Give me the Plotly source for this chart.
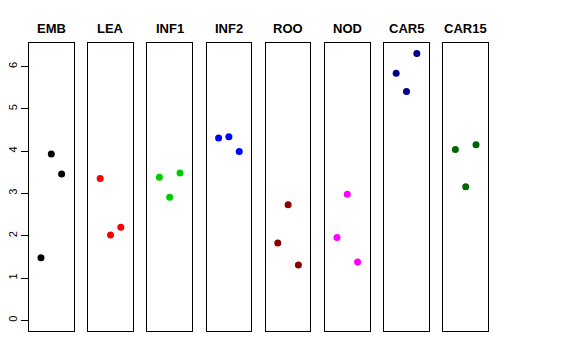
import plotly.graph_objects as go

# ---- data ----
categories = ["EMB", "LEA", "INF1", "INF2", "ROO", "NOD", "CAR5", "CAR15"]
replicate = [1, 2, 3]
emb = [1.48, 3.93, 3.46]
lea = [3.35, 2.02, 2.20]
inf1 = [3.38, 2.91, 3.48]
inf2 = [4.31, 4.34, 3.99]
roo = [1.83, 2.73, 1.31]
nod = [1.96, 2.98, 1.38]
car5 = [5.84, 5.41, 6.31]
car15 = [4.04, 3.16, 4.15]
series = [emb, lea, inf1, inf2, roo, nod, car5, car15]
colors = ["#000000", "#FF0000", "#00CD00", "#0000FF", "#8B0000", "#FF00FF", "#00008B", "#006400"]
y_ticks = [0, 1, 2, 3, 4, 5, 6]

# ---- layout geometry (pixels); page body has an 8px default margin ----
W, H = 576, 360
off = 8
ml, mr, mt, mb = 29 - off, 88 + off, 43 - off, 29 + off
pw = W - ml - mr
panel_w = 44.6
panel_step = 59.2

fig = go.Figure()
layout = dict(
    width=W, height=H,
    margin=dict(l=ml, r=mr, t=mt, b=mb, pad=0, autoexpand=False),
    paper_bgcolor="white", plot_bgcolor="white",
    showlegend=False,
    font=dict(family="Liberation Sans, Arial, sans-serif", color="black"),
    annotations=[],
)

for i, (cat, vals, col) in enumerate(zip(categories, series, colors)):
    n = "" if i == 0 else str(i + 1)
    fig.add_trace(go.Scatter(
        x=replicate, y=vals, mode="markers",
        marker=dict(color=col, size=7),
        xaxis="x" + n, yaxis="y" + n, hoverinfo="y", name=cat,
    ))
    x0 = (i * panel_step) / pw
    x1 = (i * panel_step + panel_w) / pw
    layout["xaxis" + n] = dict(
        domain=[x0, min(x1, 1.0)], range=[-0.16, 4.16],
        showgrid=False, zeroline=False, showticklabels=False, ticks="",
        showline=True, mirror=True, linecolor="black", linewidth=1,
        anchor="y" + n, fixedrange=True, automargin=False,
    )
    yax = dict(
        domain=[0, 1], range=[-0.252, 6.556],
        showgrid=False, zeroline=False,
        showline=True, mirror=True, linecolor="black", linewidth=1,
        anchor="x" + n, fixedrange=True, automargin=False,
    )
    if i == 0:
        yax.update(tickmode="array", tickvals=y_ticks, ticktext=[str(t) for t in y_ticks],
                   ticks="outside", ticklen=7, tickcolor="black", tickwidth=1,
                   tickangle=-90, tickfont=dict(size=11, color="black"))
    else:
        yax.update(showticklabels=False, ticks="")
    layout["yaxis" + n] = yax
    layout["annotations"].append(dict(
        text="<b>" + cat + "</b>", x=(x0 + x1) / 2, y=1, xref="paper", yref="paper",
        xanchor="center", yanchor="bottom", yshift=5, showarrow=False,
        font=dict(size=13, color="black"),
    ))

fig.update_layout(**layout)
fig.write_html("out.html")
